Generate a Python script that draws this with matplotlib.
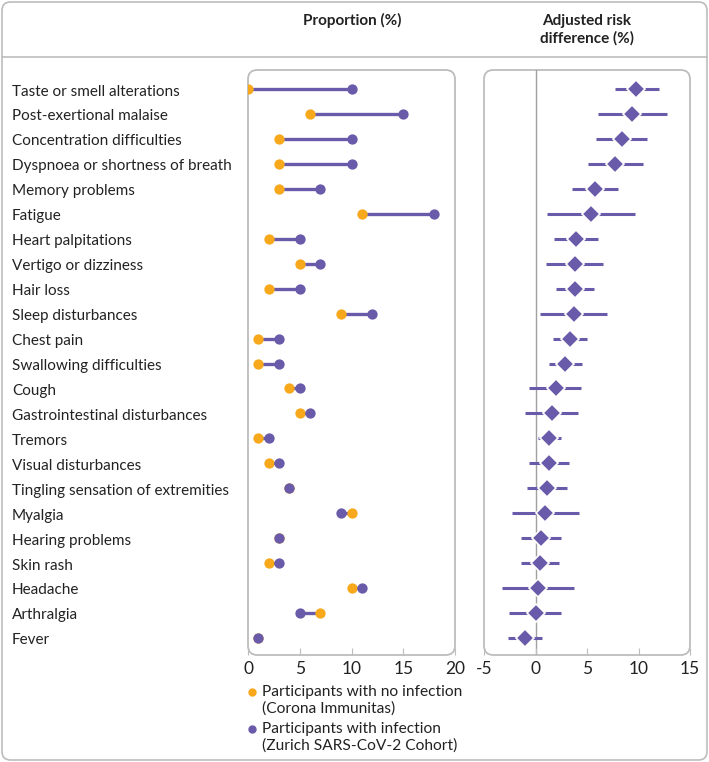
import matplotlib
matplotlib.use("Agg")
import matplotlib.pyplot as plt
from matplotlib.patches import FancyBboxPatch
from matplotlib.lines import Line2D

plt.rcParams["font.family"] = ["Lato", "DejaVu Sans"]

# symptoms, top to bottom
symptoms = [
    "Taste or smell alterations", "Post-exertional malaise", "Concentration difficulties",
    "Dyspnoea or shortness of breath", "Memory problems", "Fatigue", "Heart palpitations",
    "Vertigo or dizziness", "Hair loss", "Sleep disturbances", "Chest pain",
    "Swallowing difficulties", "Cough", "Gastrointestinal disturbances", "Tremors",
    "Visual disturbances", "Tingling sensation of extremities", "Myalgia",
    "Hearing problems", "Skin rash", "Headache", "Arthralgia", "Fever",
]
# proportion (%) without / with infection
no_infection = [0, 6, 3, 3, 3, 11, 2, 5, 2, 9, 1, 1, 4, 5, 1, 2, 4, 10, 3, 2, 10, 7, 1]
infection = [10, 15, 10, 10, 7, 18, 5, 7, 5, 12, 3, 3, 5, 6, 2, 3, 4, 9, 3, 3, 11, 5, 1]
# adjusted risk difference (%) with 95% CI
risk_diff = [9.8, 9.4, 8.35, 7.75, 5.75, 5.4, 3.9, 3.8, 3.8, 3.7, 3.35, 2.9, 1.95, 1.6,
             1.35, 1.35, 1.15, 0.95, 0.5, 0.4, 0.25, 0.0, -1.0]
ci_low = [7.7, 6.05, 5.9, 5.1, 3.5, 1.15, 1.8, 1.05, 1.95, 0.45, 1.7, 1.3, -0.6, -1.0,
          0.2, -0.6, -0.8, -2.3, -1.4, -1.45, -3.3, -2.55, -2.7]
ci_high = [12.0, 12.75, 10.8, 10.45, 8.0, 9.65, 6.05, 6.55, 5.65, 6.95, 5.0, 4.55, 4.4, 4.1,
           2.5, 3.3, 3.1, 4.2, 2.45, 2.3, 3.75, 2.5, 0.6]

orange = "#F7A81B"
purple = "#6A5AAA"
border = "#BDBDBD"
txt = "#222222"

W, H = 709, 762
fig = plt.figure(figsize=(W / 100, H / 100), dpi=100)

# outer frame and header rule
fig.patches.append(FancyBboxPatch((2 / W, 2 / H), 1 - 4 / W, 1 - 4 / H,
                                  boxstyle="round,pad=0,rounding_size=0.012",
                                  mutation_aspect=W / H, transform=fig.transFigure,
                                  fc="none", ec=border, lw=1.2))
fig.add_artist(Line2D([2 / W, 1 - 2 / W], [1 - 57 / H, 1 - 57 / H],
                      transform=fig.transFigure, color=border, lw=1.2))

fig.text(352 / W, 1 - 20 / H, "Proportion (%)", ha="center", va="center",
         fontsize=11, fontweight="bold", color=txt)
fig.text(587 / W, 1 - 30 / H, "Adjusted risk\ndifference (%)", ha="center", va="center",
         fontsize=11, fontweight="bold", color=txt, linespacing=1.3)

n = len(symptoms)
rows = list(range(n))
box_top, box_bot = 70, 655
ax_h = (box_bot - box_top) / H
ax_b = 1 - box_bot / H
ylim = (n - 1 + (655 - 638) / 24.95, -(89 - 70) / 24.95)

axL = fig.add_axes([248 / W, ax_b, 207 / W, ax_h])
axR = fig.add_axes([484 / W, ax_b, 206 / W, ax_h])

for ax, xlim, ticks in [(axL, (0, 20), [0, 5, 10, 15, 20]), (axR, (-5, 15), [-5, 0, 5, 10, 15])]:
    ax.set_xlim(*xlim)
    ax.set_ylim(*ylim)
    for s in ax.spines.values():
        s.set_visible(False)
    ax.add_patch(FancyBboxPatch((0, 0), 1, 1, boxstyle="round,pad=0,rounding_size=0.045",
                                mutation_aspect=207 / 585, transform=ax.transAxes,
                                fc="none", ec=border, lw=1.3, clip_on=False, zorder=0))
    ax.set_xticks(ticks)
    ax.set_xticklabels([str(t) for t in ticks])
    ax.tick_params(axis="x", direction="in", length=5, color=border, labelsize=12.5,
                   labelcolor=txt, pad=4)
    ax.set_yticks([])

# left panel: dumbbells
for i in rows:
    axL.plot([no_infection[i], infection[i]], [i, i], color=purple, lw=2.4,
             solid_capstyle="butt", zorder=2)
axL.scatter(no_infection, rows, s=55, color=orange, zorder=3, lw=0)
axL.scatter(infection, rows, s=55, color=purple, zorder=4, lw=0)

# right panel: risk differences
axR.axvline(0, color="#A0A0A0", lw=1, zorder=1)
for i in rows:
    axR.plot([ci_low[i], ci_high[i]], [i, i], color=purple, lw=2.2,
             solid_capstyle="butt", zorder=2)
axR.plot(risk_diff, rows, ls="none", marker="D", ms=9, color=purple,
         mec="white", mew=1.2, zorder=3)

# row labels
for i, s in enumerate(symptoms):
    y_px = 90 + i * 24.95
    fig.text(12 / W, 1 - y_px / H, s, ha="left", va="center_baseline", fontsize=11, color=txt)

# legend
leg = [("Participants with no infection\n(Corona Immunitas)", orange, 692),
       ("Participants with infection\n(Zurich SARS-CoV-2 Cohort)", purple, 729)]
for label, c, y in leg:
    fig.add_artist(Line2D([252 / W], [1 - y / H], marker="o", ms=5, color=c,
                          ls="none", transform=fig.transFigure))
    fig.text(262 / W, 1 - (y - 7) / H, label, ha="left", va="top", fontsize=11.2,
             color=txt, linespacing=1.22)

fig.savefig("out.png", dpi=100)
